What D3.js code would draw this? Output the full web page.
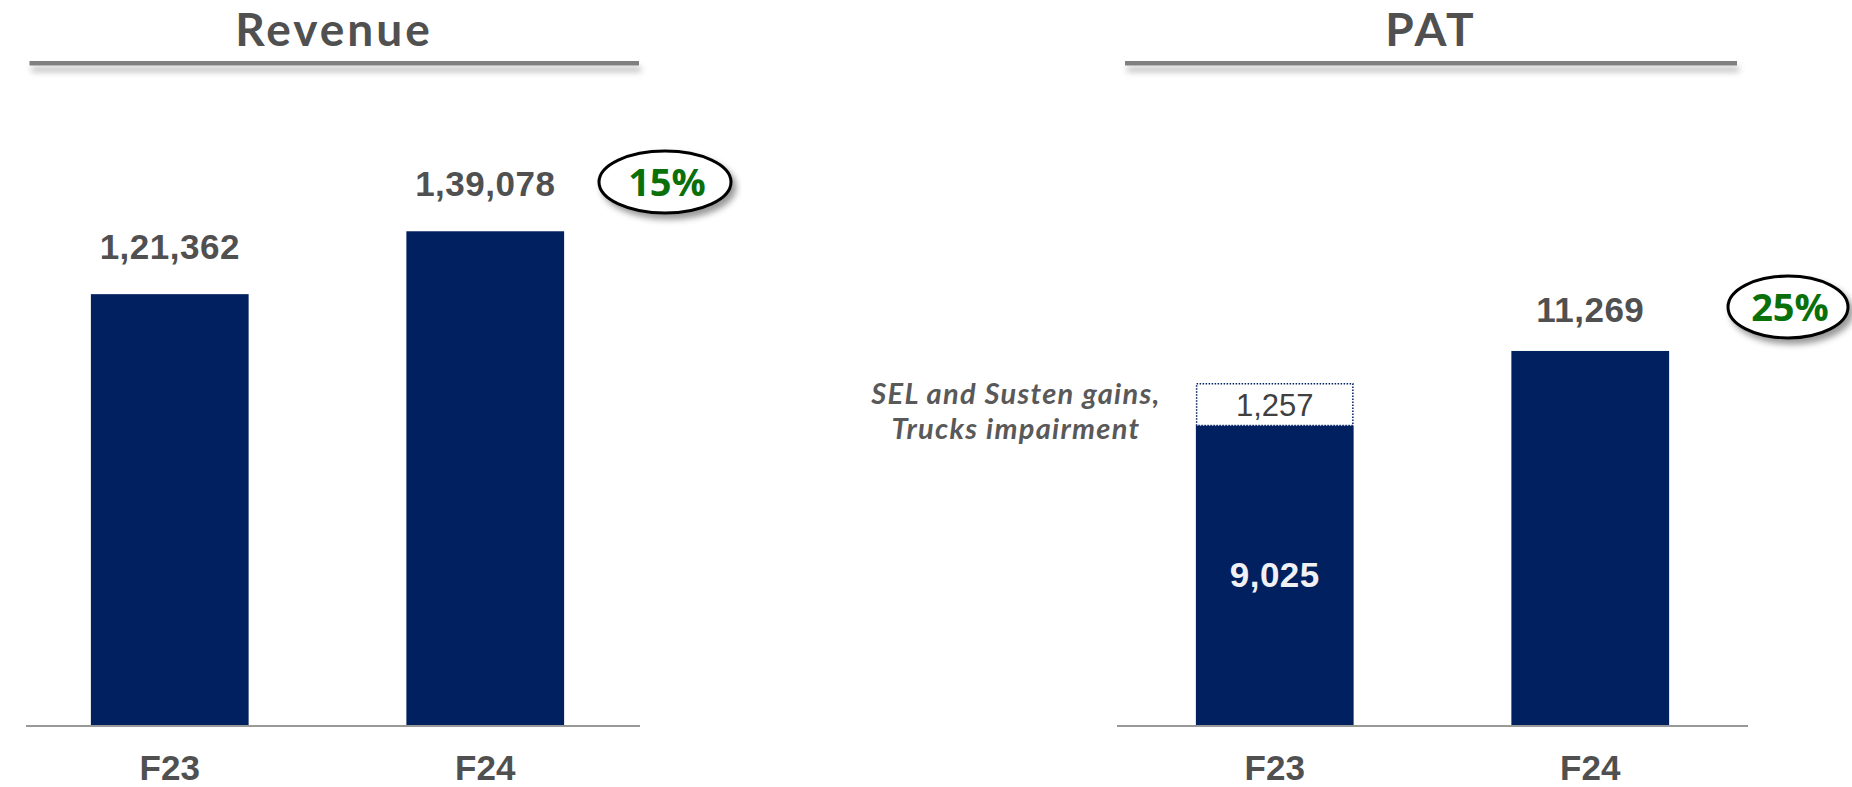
<!DOCTYPE html>
<html>
<head>
<meta charset="utf-8">
<script src="https://cdn.jsdelivr.net/npm/d3@7"></script>
<style>
  body { margin: 0; background: #fff; }
  .valueText { font-family: "Liberation Sans", Arial, sans-serif; font-weight: bold; font-size: 35px; fill: #505050; letter-spacing: 0.5px; }
  .axisText { font-family: "Liberation Sans", Arial, sans-serif; font-weight: bold; font-size: 35px; fill: #505050; }
  .titleText { font-family: Lato, sans-serif; font-weight: bold; font-size: 46px; fill: #505050; letter-spacing: 3px; }
  .noteText { font-family: Lato, sans-serif; font-weight: bold; font-style: italic; font-size: 29px; fill: #595959; letter-spacing: 1.3px; }
  .growthText { font-family: "Open Sans", sans-serif; font-weight: bold; font-size: 38px; fill: #0a700a; }
</style>
</head>
<body>
<div id="chart"></div>
<script>
// Chart data
var categories = ["F23", "F24"];
var revenueValues = [121362, 139078];
var revenueLabels = ["1,21,362", "1,39,078"];
var patBase = [9025, 11269];
var patOneOff = [1257, 0];
var patLabels = ["9,025", "11,269"];
var oneOffLabels = ["1,257", ""];
var growthLabels = ["15%", "25%"];
var noteLines = ["SEL and Susten gains,", "Trucks impairment"];

var svgWidth = 1852;
var svgHeight = 787;
var baseY = 725;
var barColor = "#002060";

var svg = d3.select("#chart")
  .append("svg")
  .attr("width", svgWidth)
  .attr("height", svgHeight);

// Shadows for the title lines and ellipses
var defs = svg.append("defs");
defs.append("filter")
  .attr("id", "lineShadow")
  .attr("filterUnits", "userSpaceOnUse")
  .attr("x", 0).attr("y", 40).attr("width", svgWidth).attr("height", 60)
  .append("feDropShadow")
  .attr("dx", 2).attr("dy", 6).attr("stdDeviation", 3)
  .attr("flood-color", "#000").attr("flood-opacity", 0.3);
defs.append("filter")
  .attr("id", "ovalShadow")
  .attr("x", "-30%").attr("y", "-30%").attr("width", "160%").attr("height", "170%")
  .append("feDropShadow")
  .attr("dx", 4).attr("dy", 5).attr("stdDeviation", 3)
  .attr("flood-color", "#000").attr("flood-opacity", 0.4);

// Scales
var xLeft = d3.scaleBand().domain(categories).range([12, 643]).paddingInner(0.5).paddingOuter(0.25);
var xRight = d3.scaleBand().domain(categories).range([1117, 1748]).paddingInner(0.5).paddingOuter(0.25);
var yLeft = d3.scaleLinear().domain([0, 140000]).range([baseY, 228]);
var yRight = d3.scaleLinear().domain([0, 12000]).range([baseY, 326.7]);

// Panel titles with underline
function drawTitle(text, cx, x1, x2) {
  svg.append("rect")
    .attr("x", x1).attr("y", 61)
    .attr("width", x2 - x1).attr("height", 4.5)
    .attr("fill", "#808080")
    .attr("filter", "url(#lineShadow)");
  svg.append("text")
    .attr("class", "titleText")
    .attr("x", cx).attr("y", 46)
    .attr("text-anchor", "middle")
    .text(text);
}
drawTitle("Revenue", 334, 29.5, 639);
drawTitle("PAT", 1431, 1125, 1737);

// Baselines
svg.append("line").attr("x1", 26).attr("x2", 640).attr("y1", baseY + 1).attr("y2", baseY + 1)
  .attr("stroke", "#999").attr("stroke-width", 2);
svg.append("line").attr("x1", 1117).attr("x2", 1748).attr("y1", baseY + 1).attr("y2", baseY + 1)
  .attr("stroke", "#999").attr("stroke-width", 2);

// Revenue bars
var revGroup = svg.append("g");
revGroup.selectAll("rect")
  .data(categories)
  .enter()
  .append("rect")
  .attr("x", d => xLeft(d))
  .attr("y", (d, i) => yLeft(revenueValues[i]))
  .attr("width", xLeft.bandwidth())
  .attr("height", (d, i) => baseY - yLeft(revenueValues[i]))
  .attr("fill", barColor);

revGroup.selectAll(".valueText")
  .data(categories)
  .enter()
  .append("text")
  .attr("class", "valueText")
  .attr("text-anchor", "middle")
  .attr("x", d => xLeft(d) + xLeft.bandwidth() / 2)
  .attr("y", (d, i) => yLeft(revenueValues[i]) - 35)
  .text((d, i) => revenueLabels[i]);

// PAT bars: base part
var patGroup = svg.append("g");
patGroup.selectAll(".baseBar")
  .data(categories)
  .enter()
  .append("rect")
  .attr("class", "baseBar")
  .attr("x", d => xRight(d))
  .attr("y", (d, i) => yRight(patBase[i]))
  .attr("width", xRight.bandwidth())
  .attr("height", (d, i) => baseY - yRight(patBase[i]))
  .attr("fill", barColor);

// one-off part (dotted outline box)
patGroup.selectAll(".oneOff")
  .data(categories.filter((d, i) => patOneOff[i] > 0))
  .enter()
  .append("rect")
  .attr("class", "oneOff")
  .attr("x", d => xRight(d) + 0.75)
  .attr("y", d => yRight(patBase[categories.indexOf(d)] + patOneOff[categories.indexOf(d)]))
  .attr("width", xRight.bandwidth() - 1.5)
  .attr("height", d => yRight(patBase[categories.indexOf(d)]) - yRight(patBase[categories.indexOf(d)] + patOneOff[categories.indexOf(d)]))
  .attr("fill", "#fff")
  .attr("stroke", barColor)
  .attr("stroke-width", 1.5)
  .attr("stroke-dasharray", "1.5,1.5");

patGroup.selectAll(".oneOffText")
  .data(categories.filter((d, i) => patOneOff[i] > 0))
  .enter()
  .append("text")
  .attr("class", "oneOffText")
  .attr("text-anchor", "middle")
  .attr("x", d => xRight(d) + xRight.bandwidth() / 2)
  .attr("y", d => {
    var i = categories.indexOf(d);
    return (yRight(patBase[i]) + yRight(patBase[i] + patOneOff[i])) / 2 + 11;
  })
  .style("font-family", "Liberation Sans, Arial, sans-serif")
  .style("font-size", "31px")
  .style("fill", "#404040")
  .text(d => oneOffLabels[categories.indexOf(d)]);

// PAT labels: F23 inside the bar, F24 on top
patGroup.selectAll(".valueText")
  .data(categories)
  .enter()
  .append("text")
  .attr("class", "valueText")
  .attr("text-anchor", "middle")
  .attr("x", d => xRight(d) + xRight.bandwidth() / 2)
  .attr("y", (d, i) => patOneOff[i] > 0
    ? (yRight(patBase[i]) + baseY) / 2 + 12
    : yRight(patBase[i]) - 29)
  .style("fill", (d, i) => patOneOff[i] > 0 ? "#f0f0f5" : "#505050")
  .text((d, i) => patLabels[i]);

// Note next to the one-off box, one text per line
svg.selectAll(".noteText")
  .data(noteLines)
  .enter()
  .append("text")
  .attr("class", "noteText")
  .attr("text-anchor", "middle")
  .attr("x", 1016)
  .attr("y", (d, i) => 404 + i * 35)
  .text(d => d);

// Category labels
svg.selectAll(".leftAxis")
  .data(categories)
  .enter()
  .append("text")
  .attr("class", "axisText leftAxis")
  .attr("text-anchor", "middle")
  .attr("x", d => xLeft(d) + xLeft.bandwidth() / 2)
  .attr("y", 780)
  .text(d => d);

svg.selectAll(".rightAxis")
  .data(categories)
  .enter()
  .append("text")
  .attr("class", "axisText rightAxis")
  .attr("text-anchor", "middle")
  .attr("x", d => xRight(d) + xRight.bandwidth() / 2)
  .attr("y", 780)
  .text(d => d);

// Growth ovals
var ovals = [
  { cx: 665, cy: 182, rx: 66, ry: 31 },
  { cx: 1788, cy: 307, rx: 60, ry: 31 }
];
ovals.forEach(function(o, i) {
  svg.append("ellipse")
    .attr("cx", o.cx).attr("cy", o.cy)
    .attr("rx", o.rx).attr("ry", o.ry)
    .attr("fill", "#fff")
    .attr("stroke", "#000")
    .attr("stroke-width", 3)
    .attr("filter", "url(#ovalShadow)");
  svg.append("text")
    .attr("class", "growthText")
    .attr("text-anchor", "middle")
    .attr("x", o.cx + 2)
    .attr("y", o.cy + 14)
    .text(growthLabels[i]);
});
</script>
</body>
</html>
